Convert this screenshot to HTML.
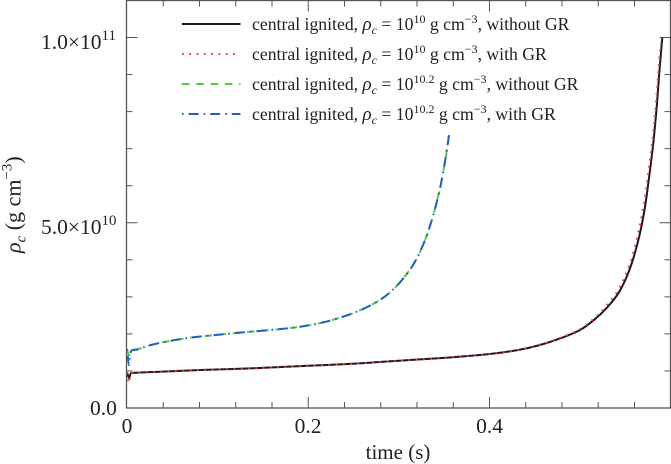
<!DOCTYPE html>
<html><head><meta charset="utf-8"><style>
html,body{margin:0;padding:0;background:#fff;width:671px;height:464px;overflow:hidden}
svg{display:block}
text{font-family:"Liberation Serif",serif;fill:#222}
.leg{font-size:17.7px}
.tick{font-size:21.5px}
.i{font-style:italic}
</style></head><body>
<svg id="chart" width="671" height="464" viewBox="0 0 671 464" xmlns="http://www.w3.org/2000/svg">
<g id="marks"></g>
<rect x="126.5" y="0.5" width="544" height="407.5" fill="none" stroke="#555" stroke-width="1.3"/>
<g id="ticks"></g>
<g>
<text class="tick" x="41" y="49">1.0×10<tspan font-size="15" dy="-9">11</tspan></text>
<text class="tick" x="41" y="234">5.0×10<tspan font-size="15" dy="-9">10</tspan></text>
<text class="tick" x="90" y="415">0.0</text>
</g>
<g>
<text class="tick" x="127" y="433" text-anchor="middle">0</text>
<text class="tick" x="308" y="433" text-anchor="middle">0.2</text>
<text class="tick" x="489.5" y="433" text-anchor="middle">0.4</text>
</g>
<text x="398" y="459" text-anchor="middle" font-size="21">time (s)</text>
<text transform="translate(20.5,253) rotate(-90)" font-size="22"><tspan class="i">ρ</tspan><tspan class="i" font-size="15" dy="5">c</tspan><tspan dy="-5"> (g cm</tspan><tspan font-size="15" dy="-9">−3</tspan><tspan dy="9">)</tspan></text>
<g>
<line x1="182" x2="240.5" y1="24" y2="24" stroke="#1a1a1a" stroke-width="1.9"/>
<line x1="182" x2="240.5" y1="54" y2="54" stroke="#f23c3c" stroke-width="1.9" stroke-dasharray="1.8 5.5"/>
<line x1="182" x2="240.5" y1="84" y2="84" stroke="#5cc83c" stroke-width="1.9" stroke-dasharray="7.5 6.8"/>
<line x1="182" x2="240.5" y1="114" y2="114" stroke="#2060c0" stroke-width="1.9" stroke-dasharray="1.6 5 10 5"/>
<text class="leg" x="252" y="30">central ignited, <tspan class="i" font-size="19">ρ</tspan><tspan class="i" font-size="12" dy="4">c</tspan><tspan dy="-4"> = 10</tspan><tspan font-size="12" dy="-7">10</tspan><tspan dy="7"> g cm</tspan><tspan font-size="12" dy="-7">−3</tspan><tspan dy="7">, without GR</tspan></text>
<text class="leg" x="252" y="60">central ignited, <tspan class="i" font-size="19">ρ</tspan><tspan class="i" font-size="12" dy="4">c</tspan><tspan dy="-4"> = 10</tspan><tspan font-size="12" dy="-7">10</tspan><tspan dy="7"> g cm</tspan><tspan font-size="12" dy="-7">−3</tspan><tspan dy="7">, with GR</tspan></text>
<text class="leg" x="252" y="90">central ignited, <tspan class="i" font-size="19">ρ</tspan><tspan class="i" font-size="12" dy="4">c</tspan><tspan dy="-4"> = 10</tspan><tspan font-size="12" dy="-7">10.2</tspan><tspan dy="7"> g cm</tspan><tspan font-size="12" dy="-7">−3</tspan><tspan dy="7">, without GR</tspan></text>
<text class="leg" x="252" y="120">central ignited, <tspan class="i" font-size="19">ρ</tspan><tspan class="i" font-size="12" dy="4">c</tspan><tspan dy="-4"> = 10</tspan><tspan font-size="12" dy="-7">10.2</tspan><tspan dy="7"> g cm</tspan><tspan font-size="12" dy="-7">−3</tspan><tspan dy="7">, with GR</tspan></text>
</g>
</svg>
<script>
// Time in seconds, central density in units of 1e10 g/cm^3
var lowTime = [0, 0.0022, 0.004, 0.008, 0.036, 0.0806, 0.1358, 0.191, 0.2461, 0.2958, 0.3454, 0.3895, 0.4116, 0.4337, 0.4557, 0.4778, 0.4999, 0.5164, 0.5293, 0.5421, 0.5514, 0.5587, 0.566, 0.5716, 0.5752, 0.5807, 0.5845, 0.5873, 0.5907];
var lowNoGR = [0.97, 0.81, 0.92, 0.95, 0.98, 1.026, 1.07, 1.13, 1.19, 1.27, 1.345, 1.43, 1.49, 1.575, 1.7, 1.876, 2.105, 2.4, 2.7, 3.096, 3.544, 4.04, 4.715, 5.43, 6.065, 7.14, 8.13, 9.03, 10.01];
var lowGRTime = [0, 0.0022, 0.004, 0.008, 0.036, 0.0806, 0.1358, 0.191, 0.2461, 0.2958, 0.3454, 0.3895, 0.4116, 0.4337, 0.4557, 0.4778, 0.4999, 0.5164, 0.5293, 0.5421, 0.5514, 0.5587, 0.566, 0.5716, 0.5752, 0.5807, 0.5845, 0.5873, 0.5892];
var lowGR = [0.97, 0.675, 0.92, 0.95, 0.98, 1.026, 1.07, 1.13, 1.19, 1.27, 1.345, 1.43, 1.49, 1.575, 1.71, 1.89, 2.13, 2.44, 2.77, 3.19, 3.67, 4.2, 4.95, 5.7, 6.35, 7.45, 8.5, 9.4, 9.85];
var highTime = [0, 0.0022, 0.0044, 0.0118, 0.0265, 0.0486, 0.0725, 0.1018, 0.1277, 0.1644, 0.1901, 0.2196, 0.249, 0.2729, 0.2902, 0.3049, 0.3178, 0.3288, 0.338, 0.3454, 0.3509, 0.3556];
var highNoGR = [1.59, 1.43, 1.53, 1.584, 1.7, 1.816, 1.907, 1.98, 2.04, 2.12, 2.19, 2.33, 2.556, 2.826, 3.12, 3.5, 3.95, 4.53, 5.21, 5.93, 6.65, 7.41];
var highGR = [1.59, 1.16, 1.53, 1.584, 1.7, 1.816, 1.907, 1.98, 2.04, 2.12, 2.19, 2.33, 2.556, 2.826, 3.12, 3.5, 3.95, 4.53, 5.21, 5.93, 6.65, 7.41];
var xMajorTicks = [0.2, 0.4];
var xMinorTicks = [0.04, 0.08, 0.12, 0.16, 0.24, 0.28, 0.32, 0.36, 0.44, 0.48, 0.52, 0.56];
var yMajorTicks = [5, 10];
var yMinorTicks = [1, 2, 3, 4, 6, 7, 8, 9];

function xScale(t) { return 127 + t * 906.25; }
function yScale(r) { return 408 - r * 37.05; }
var NS = 'http://www.w3.org/2000/svg';
var marks = document.getElementById('marks');
var ticks = document.getElementById('ticks');

function smoothPath(times, values) {
  var pts = times.map(function (t, i) { return [xScale(t), yScale(values[i])]; });
  var d = 'M' + pts[0][0].toFixed(2) + ' ' + pts[0][1].toFixed(2);
  for (var i = 0; i < pts.length - 1; i++) {
    var p0 = pts[Math.max(i - 1, 0)];
    var p1 = pts[i];
    var p2 = pts[i + 1];
    var p3 = pts[Math.min(i + 2, pts.length - 1)];
    var c1x = p1[0] + (p2[0] - p0[0]) / 6;
    var c1y = p1[1] + (p2[1] - p0[1]) / 6;
    var c2x = p2[0] - (p3[0] - p1[0]) / 6;
    var c2y = p2[1] - (p3[1] - p1[1]) / 6;
    d += 'C' + c1x.toFixed(2) + ' ' + c1y.toFixed(2) + ' ' + c2x.toFixed(2) + ' ' + c2y.toFixed(2) + ' ' + p2[0].toFixed(2) + ' ' + p2[1].toFixed(2);
  }
  return d;
}
function drawSeries(name, times, values, color, width, dash) {
  var p = document.createElementNS(NS, 'path');
  p.setAttribute('d', smoothPath(times, values));
  p.setAttribute('fill', 'none');
  p.setAttribute('stroke', color);
  p.setAttribute('stroke-width', width);
  if (dash) p.setAttribute('stroke-dasharray', dash);
  
  
  marks.appendChild(p);
}
drawSeries('series-low-density-no-gr', lowTime, lowNoGR, '#1a1a1a', 2, '');
drawSeries('series-low-density-gr', lowGRTime, lowGR, '#f23c3c', 2, '1.8 5.5');
drawSeries('series-high-density-no-gr', highTime, highNoGR, '#5cc83c', 2, '7.5 6.8');
drawSeries('series-high-density-gr', highTime, highGR, '#2060c0', 2, '1.6 5 10 5');

function tickLine(name, x1, y1, x2, y2) {
  var l = document.createElementNS(NS, 'line');
  l.setAttribute('x1', x1);
  l.setAttribute('y1', y1);
  l.setAttribute('x2', x2);
  l.setAttribute('y2', y2);
  l.setAttribute('stroke', '#555');
  l.setAttribute('stroke-width', '1');
  
  
  ticks.appendChild(l);
}
function xTicks(values, len, name) {
  values.forEach(function (t) {
    var x = xScale(t);
    tickLine(name + '-bottom', x, 408, x, 408 - len);
    tickLine(name + '-top', x, 0.5, x, 0.5 + len);
  });
}
function yTicks(values, len, name) {
  values.forEach(function (r) {
    var y = yScale(r);
    tickLine(name + '-left', 126.5, y, 126.5 + len, y);
    tickLine(name + '-right', 670.5, y, 670.5 - len, y);
  });
}
xTicks(xMajorTicks, 11, 'x-major-tick');
xTicks(xMinorTicks, 6, 'x-minor-tick');
yTicks(yMajorTicks, 11, 'y-major-tick');
yTicks(yMinorTicks, 6, 'y-minor-tick');
</script>
</body></html>
